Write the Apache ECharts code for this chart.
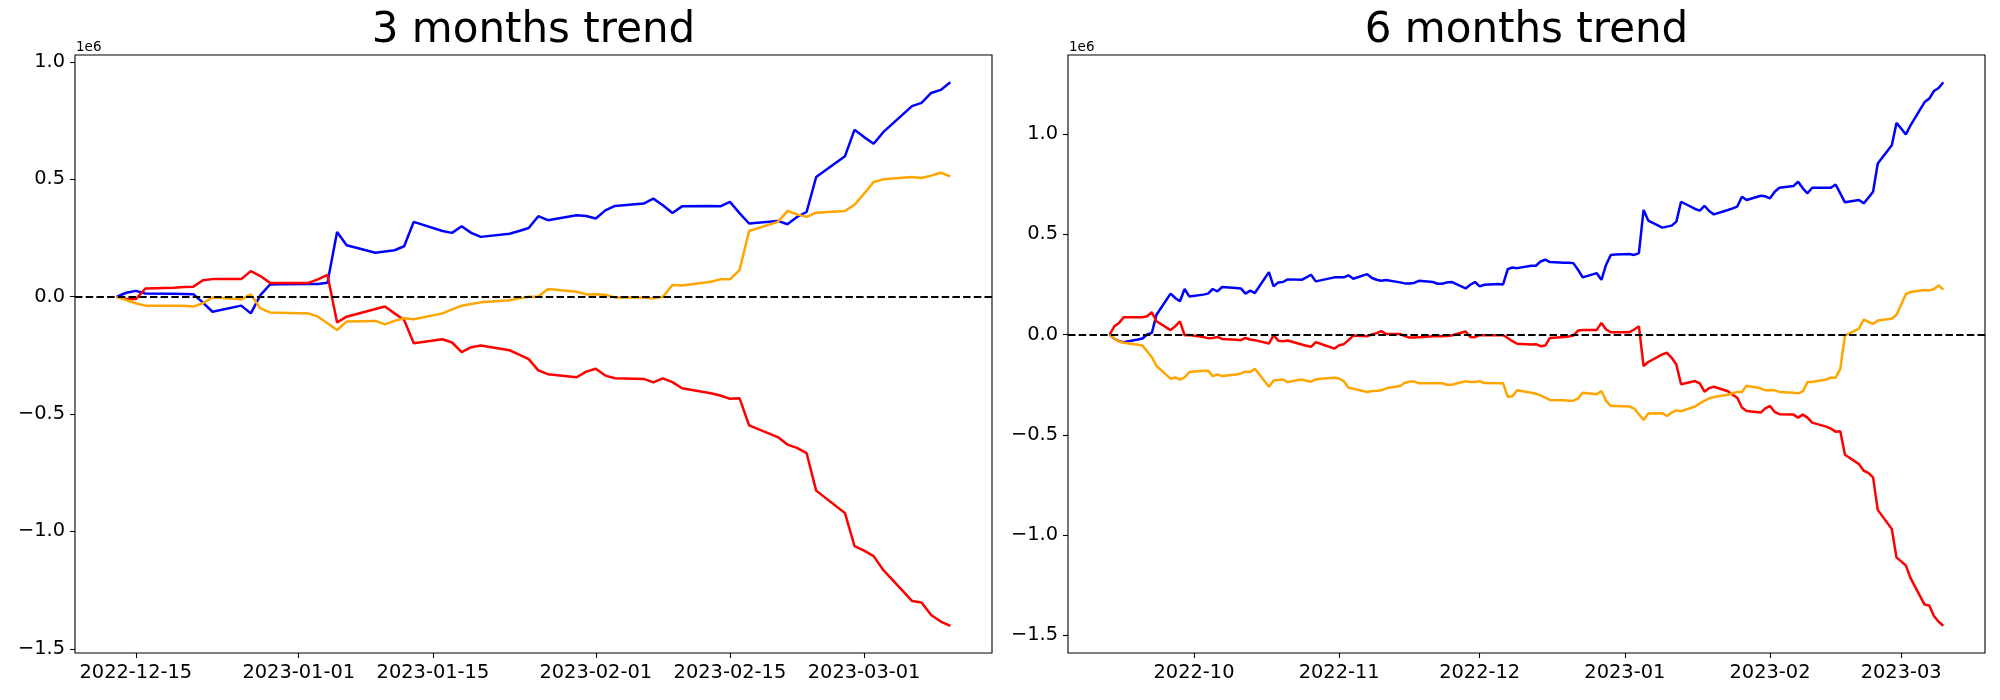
<!DOCTYPE html>
<html><head><meta charset="utf-8">
<script src="https://cdn.jsdelivr.net/npm/echarts@6/dist/echarts.min.js"></script>
<style>html,body{margin:0;padding:0;background:#fff}#c{width:2000px;height:700px}</style>
</head><body><div id="c"></div>
<script>
// ---------- 3 months panel ----------
const dates3 = ['2022-12-13','2022-12-14','2022-12-15','2022-12-16','2022-12-19','2022-12-20','2022-12-21','2022-12-22','2022-12-23','2022-12-26','2022-12-27','2022-12-28','2022-12-29','2022-12-30',
'2023-01-02','2023-01-03','2023-01-04','2023-01-05','2023-01-06','2023-01-09','2023-01-10','2023-01-11','2023-01-12','2023-01-13','2023-01-16','2023-01-17','2023-01-18','2023-01-19','2023-01-20','2023-01-23','2023-01-24','2023-01-25','2023-01-26','2023-01-27','2023-01-30','2023-01-31',
'2023-02-01','2023-02-02','2023-02-03','2023-02-06','2023-02-07','2023-02-08','2023-02-09','2023-02-10','2023-02-13','2023-02-14','2023-02-15','2023-02-16','2023-02-17','2023-02-20','2023-02-21','2023-02-22','2023-02-23','2023-02-24','2023-02-27','2023-02-28',
'2023-03-01','2023-03-02','2023-03-03','2023-03-06','2023-03-07','2023-03-08','2023-03-09','2023-03-10'];
const blue3 = [0,0.017,0.025,0.014,0.013,0.012,0.011,-0.025,-0.064,-0.038,-0.071,0.007,0.052,0.053,
0.054,0.054,0.060,0.276,0.219,0.187,0.193,0.198,0.215,0.319,0.280,0.272,0.300,0.272,0.255,0.268,0.280,0.293,0.343,0.326,0.347,0.344,
0.333,0.368,0.387,0.397,0.418,0.390,0.357,0.385,0.387,0.385,0.404,0.356,0.312,0.323,0.309,0.340,0.361,0.510,0.598,0.711,
0.680,0.652,0.701,0.812,0.826,0.868,0.881,0.914];
const red3 = [0,-0.010,-0.010,0.035,0.038,0.041,0.043,0.070,0.075,0.075,0.109,0.088,0.059,0.059,
0.059,0.074,0.093,-0.110,-0.085,-0.052,-0.042,-0.071,-0.099,-0.198,-0.181,-0.195,-0.236,-0.215,-0.208,-0.228,-0.247,-0.266,-0.314,-0.330,-0.343,-0.319,
-0.307,-0.336,-0.347,-0.350,-0.365,-0.348,-0.364,-0.390,-0.411,-0.421,-0.435,-0.432,-0.548,-0.598,-0.630,-0.644,-0.666,-0.826,-0.921,-1.062,
-1.082,-1.105,-1.164,-1.296,-1.303,-1.356,-1.384,-1.402];
const orange3 = [0,-0.014,-0.028,-0.038,-0.038,-0.038,-0.042,-0.028,-0.003,-0.011,0.010,-0.050,-0.067,-0.068,
-0.071,-0.085,-0.113,-0.142,-0.106,-0.103,-0.118,-0.103,-0.092,-0.096,-0.071,-0.054,-0.038,-0.031,-0.024,-0.015,-0.007,0.000,0.000,0.033,0.021,0.010,
0.011,0.008,-0.003,-0.003,-0.008,0.000,0.050,0.048,0.064,0.074,0.074,0.113,0.280,0.319,0.365,0.351,0.340,0.358,0.365,0.392,
0.439,0.489,0.500,0.510,0.506,0.516,0.528,0.513];
const xTicks3 = ['2022-12-15','2023-01-01','2023-01-15','2023-02-01','2023-02-15','2023-03-01'];

// ---------- 6 months panel ----------
const dates6 = ['2022-09-13','2022-09-14','2022-09-15','2022-09-16','2022-09-19','2022-09-20','2022-09-21','2022-09-22','2022-09-23','2022-09-26','2022-09-27','2022-09-28','2022-09-29','2022-09-30',
'2022-10-03','2022-10-04','2022-10-05','2022-10-06','2022-10-07','2022-10-10','2022-10-11','2022-10-12','2022-10-13','2022-10-14','2022-10-17','2022-10-18','2022-10-19','2022-10-20','2022-10-21','2022-10-24','2022-10-25','2022-10-26','2022-10-27','2022-10-28','2022-10-31',
'2022-11-01','2022-11-02','2022-11-03','2022-11-04','2022-11-07','2022-11-08','2022-11-09','2022-11-10','2022-11-11','2022-11-14','2022-11-15','2022-11-16','2022-11-17','2022-11-18','2022-11-21','2022-11-22','2022-11-23','2022-11-24','2022-11-25','2022-11-28','2022-11-29','2022-11-30',
'2022-12-01','2022-12-02','2022-12-05','2022-12-06','2022-12-07','2022-12-08','2022-12-09','2022-12-12','2022-12-13','2022-12-14','2022-12-15','2022-12-16','2022-12-19','2022-12-20','2022-12-21','2022-12-22','2022-12-23','2022-12-26','2022-12-27','2022-12-28','2022-12-29','2022-12-30',
'2023-01-02','2023-01-03','2023-01-04','2023-01-05','2023-01-06','2023-01-09','2023-01-10','2023-01-11','2023-01-12','2023-01-13','2023-01-16','2023-01-17','2023-01-18','2023-01-19','2023-01-20','2023-01-23','2023-01-24','2023-01-25','2023-01-26','2023-01-27','2023-01-30','2023-01-31',
'2023-02-01','2023-02-02','2023-02-03','2023-02-06','2023-02-07','2023-02-08','2023-02-09','2023-02-10','2023-02-13','2023-02-14','2023-02-15','2023-02-16','2023-02-17','2023-02-20','2023-02-21','2023-02-22','2023-02-23','2023-02-24','2023-02-27','2023-02-28',
'2023-03-01','2023-03-02','2023-03-03','2023-03-06','2023-03-07','2023-03-08','2023-03-09','2023-03-10'];
const blue6 = [0,-0.022,-0.033,-0.038,-0.025,-0.020,0.000,0.008,0.099,0.204,0.182,0.166,0.227,0.190,
0.199,0.204,0.227,0.215,0.237,0.232,0.230,0.204,0.219,0.207,0.311,0.240,0.260,0.262,0.275,0.273,0.285,0.298,0.265,0.270,0.285,
0.285,0.285,0.295,0.278,0.301,0.282,0.273,0.268,0.272,0.260,0.255,0.255,0.257,0.268,0.262,0.253,0.253,0.260,0.262,0.230,0.248,0.262,
0.240,0.248,0.252,0.250,0.326,0.334,0.331,0.343,0.343,0.364,0.373,0.361,0.358,0.358,0.356,0.323,0.285,0.306,0.273,0.348,0.397,0.399,
0.401,0.397,0.406,0.621,0.568,0.533,0.538,0.543,0.563,0.662,0.626,0.618,0.642,0.616,0.599,0.621,0.629,0.638,0.687,0.671,0.692,0.689,
0.679,0.712,0.732,0.740,0.762,0.729,0.704,0.732,0.732,0.732,0.748,0.704,0.659,0.671,0.654,0.682,0.712,0.853,0.944,1.055,
1.027,0.997,1.043,1.159,1.176,1.214,1.229,1.258];
const red6 = [0,0.041,0.058,0.086,0.086,0.086,0.091,0.111,0.066,0.022,0.041,0.066,-0.003,-0.002,
-0.012,-0.018,-0.017,-0.012,-0.022,-0.026,-0.028,-0.017,-0.025,-0.028,-0.045,-0.003,-0.031,-0.033,-0.030,-0.050,-0.056,-0.061,-0.038,-0.046,-0.070,
-0.053,-0.048,-0.028,-0.005,-0.008,0.000,0.007,0.017,0.003,0.003,-0.008,-0.015,-0.015,-0.013,-0.008,-0.008,-0.008,-0.007,-0.005,0.015,-0.012,-0.013,
-0.003,-0.003,-0.003,-0.003,-0.017,-0.033,-0.046,-0.050,-0.048,-0.058,-0.055,-0.017,-0.012,-0.010,-0.005,0.020,0.023,0.023,0.058,0.025,0.012,0.012,
0.012,0.025,0.041,-0.157,-0.137,-0.099,-0.091,-0.116,-0.149,-0.248,-0.232,-0.243,-0.285,-0.267,-0.260,-0.283,-0.300,-0.315,-0.364,-0.381,-0.389,-0.368,
-0.356,-0.386,-0.397,-0.399,-0.414,-0.399,-0.414,-0.439,-0.459,-0.469,-0.484,-0.482,-0.599,-0.646,-0.679,-0.690,-0.712,-0.874,-0.969,-1.111,
-1.131,-1.151,-1.214,-1.346,-1.351,-1.403,-1.432,-1.452];
const orange6 = [0,-0.022,-0.035,-0.041,-0.051,-0.055,-0.083,-0.113,-0.157,-0.220,-0.214,-0.224,-0.214,-0.187,
-0.180,-0.180,-0.207,-0.199,-0.207,-0.199,-0.194,-0.185,-0.187,-0.171,-0.260,-0.229,-0.227,-0.224,-0.237,-0.224,-0.230,-0.235,-0.224,-0.220,-0.215,
-0.219,-0.233,-0.265,-0.270,-0.286,-0.281,-0.280,-0.278,-0.268,-0.257,-0.240,-0.235,-0.233,-0.243,-0.243,-0.242,-0.243,-0.250,-0.250,-0.233,-0.237,-0.237,
-0.233,-0.242,-0.243,-0.243,-0.310,-0.308,-0.278,-0.290,-0.295,-0.303,-0.315,-0.326,-0.328,-0.330,-0.330,-0.318,-0.290,-0.298,-0.281,-0.331,-0.356,-0.356,
-0.359,-0.369,-0.397,-0.426,-0.394,-0.392,-0.406,-0.389,-0.378,-0.382,-0.359,-0.343,-0.330,-0.318,-0.311,-0.300,-0.293,-0.286,-0.286,-0.255,-0.268,-0.278,
-0.277,-0.278,-0.286,-0.290,-0.293,-0.283,-0.237,-0.237,-0.224,-0.215,-0.215,-0.171,-0.005,0.030,0.075,0.063,0.053,0.070,0.079,0.099,
0.149,0.202,0.212,0.222,0.219,0.227,0.245,0.224];
const xTicks6 = ['2022-10','2022-11','2022-12','2023-01','2023-02','2023-03'];

const yTicks = [-1.5,-1.0,-0.5,0.0,0.5,1.0];
const titles = ['3 months trend','6 months trend'];
const offsetLabel = '1e6';
const colors = {blue:'#0000ff', red:'#ff0000', orange:'#ffa500'};

// ---------- build ----------
function ts(s){const p=s.split('-').map(Number);return Date.UTC(p[0],p[1]-1,p[2]||1);}
function pad(lo,hi){const r=hi-lo;return [lo-0.05*r,hi+0.05*r];}
const FONT='DejaVu Sans';
const grids=[{left:75,top:55,width:917,height:598},{left:1068,top:55,width:917,height:598}];
const panels=[
 {dates:dates3,blue:blue3,red:red3,orange:orange3,ticks:xTicks3},
 {dates:dates6,blue:blue6,red:red6,orange:orange6,ticks:xTicks6}
];
const option={animation:false,backgroundColor:'#fff',title:[],grid:[],xAxis:[],yAxis:[],series:[],graphic:[]};
panels.forEach((p,i)=>{
  const t=p.dates.map(ts);
  const xr=pad(t[0],t[t.length-1]);
  const all=p.blue.concat(p.red,p.orange);
  const yr=pad(Math.min(...all),Math.max(...all));
  const g=grids[i];
  option.grid.push(Object.assign({show:true,borderColor:'#000',borderWidth:1.1,backgroundColor:'transparent'},g));
  option.title.push({text:titles[i],left:g.left+g.width/2,top:10,textAlign:'center',padding:0,
    textStyle:{fontFamily:FONT,fontSize:42,fontWeight:'normal',color:'#000'}});
  const tickVals=p.ticks.map(ts);
  option.xAxis.push({type:'value',gridIndex:i,min:xr[0],max:xr[1],scale:true,
    axisLine:{show:false,onZero:false},splitLine:{show:false},
    axisTick:{show:true,length:5,lineStyle:{color:'#000',width:1.1},customValues:tickVals},
    axisLabel:{customValues:tickVals,margin:10,color:'#000',fontFamily:FONT,fontSize:19.4,
      formatter:v=>{const k=tickVals.indexOf(v);return k>=0?p.ticks[k]:'';}}});
  option.yAxis.push({type:'value',gridIndex:i,min:yr[0],max:yr[1],scale:true,
    axisLine:{show:false,onZero:false},splitLine:{show:false},
    axisTick:{show:true,length:5,lineStyle:{color:'#000',width:1.1},customValues:yTicks},
    axisLabel:{customValues:yTicks,margin:10,color:'#000',fontFamily:FONT,fontSize:19.4,
      formatter:v=>(v<0?'\u2212':'')+Math.abs(v).toFixed(1)}});
  ['blue','red','orange'].forEach((k,j)=>{
    const s={type:'line',xAxisIndex:i,yAxisIndex:i,showSymbol:false,symbol:'none',
      data:t.map((x,n)=>[x,p[k][n]]),lineStyle:{color:colors[k],width:2.5},itemStyle:{color:colors[k]},z:2+j};
    if(k==='orange'){s.markLine={silent:true,symbol:['none','none'],label:{show:false},
      lineStyle:{color:'#000',type:[7.5,3.2],width:2},data:[{yAxis:0}]};}
    option.series.push(s);
  });
  option.graphic.push({type:'text',left:g.left+1,top:40,style:{text:offsetLabel,font:'13.5px "DejaVu Sans"',fill:'#000'}});
});
const chart=echarts.init(document.getElementById('c'),null,{renderer:'canvas',width:2000,height:700});
chart.setOption(option);
</script></body></html>
